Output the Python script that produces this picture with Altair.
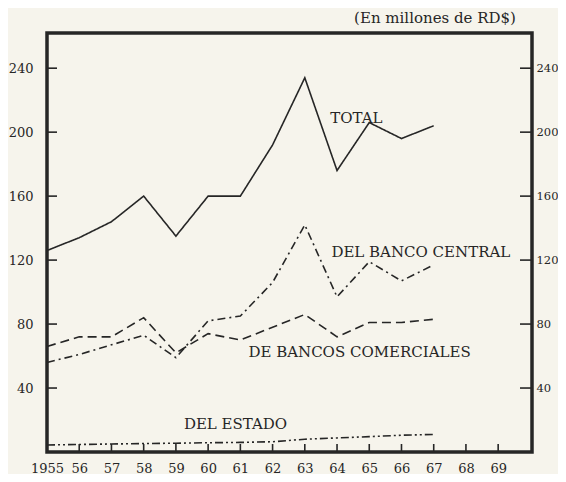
import altair as alt
import pandas as pd

# ---------------- data ----------------
years = [1955, 1956, 1957, 1958, 1959, 1960, 1961, 1962, 1963, 1964, 1965, 1966, 1967]
total = [126, 134, 144, 160, 135, 160, 160, 192, 234, 176, 206, 196, 204]
banco_central = [56, 61, 67, 73, 59, 82, 85, 106, 142, 97, 119, 107, 117]
bancos_comerciales = [66, 72, 72, 84, 62, 74, 70, 78, 86, 72, 81, 81, 83]
estado = [4.4, 4.7, 5.0, 5.3, 5.5, 5.8, 6.0, 6.4, 8.0, 8.8, 9.6, 10.5, 11.0]

series_names = ["TOTAL", "DEL BANCO CENTRAL", "DE BANCOS COMERCIALES", "DEL ESTADO"]
series_values = [total, banco_central, bancos_comerciales, estado]

x_ticks = list(range(1955, 1970))
x_tick_labels = ["1955", "56", "57", "58", "59", "60", "61", "62", "63",
                 "64", "65", "66", "67", "68", "69"]
y_ticks = [40, 80, 120, 160, 200, 240]

label_texts = ["TOTAL", "DEL BANCO CENTRAL", "DE BANCOS COMERCIALES", "DEL ESTADO"]
label_years = [1964.6, 1966.6, 1964.7, 1960.85]
label_values = [208.8, 125.0, 62.5, 17.5]

unit_note = "(En millones de RD$)"

# ---------------- build tables ----------------
rows = []
for name, vals in zip(series_names, series_values):
    for yr, v in zip(years, vals):
        rows.append({"year": yr, "value": v, "serie": name})
df = pd.DataFrame(rows)

tick_df = pd.DataFrame({"tick": y_ticks})
xt_df = pd.DataFrame({"year": x_ticks[1:]})
ann_df = pd.DataFrame({"text": label_texts, "year": label_years, "value": label_values})

W, H = 485, 419
ink = "#262626"
paper = "#f6f4ec"
font = "DejaVu Serif"

xscale = alt.Scale(domain=[1955, 1970.05], nice=False, zero=False)
yscale = alt.Scale(domain=[0, 262], nice=False)

label_expr = "[" + ",".join("'%s'" % t for t in x_tick_labels) + "][datum.value - %d]" % x_ticks[0]

axis_common = dict(ticks=False, domain=False, grid=False, title=None,
                   labelFont=font, labelFontSize=13, labelColor=ink)

x_axis = alt.Axis(values=x_ticks, labelExpr=label_expr, labelPadding=10,
                  labelFlush=False, labelOverlap=False, **axis_common)
X = lambda: alt.X("year:Q", scale=xscale, axis=x_axis)

lines = alt.Chart(df).mark_line(strokeWidth=1.6, color=ink).encode(
    x=X(),
    y=alt.Y("value:Q", scale=yscale,
            axis=alt.Axis(values=y_ticks, labelPadding=14, **axis_common)),
    strokeDash=alt.StrokeDash(
        "serie:N",
        scale=alt.Scale(domain=series_names,
                        range=[[1, 0], [8, 4, 2, 4], [9, 5], [8, 3, 2, 3, 2, 3]]),
        legend=None),
    detail="serie:N",
)

left_ticks = alt.Chart(tick_df).mark_rule(color=ink, strokeWidth=1.6).encode(
    y=alt.Y("tick:Q", scale=yscale, axis=None),
    x=alt.value(0), x2=alt.value(10),
)

right_axis = dict(axis_common)
right_axis["labelFontSize"] = 11.5
right_ticks = alt.Chart(tick_df).mark_rule(color=ink, strokeWidth=1.6).encode(
    y=alt.Y("tick:Q", scale=yscale,
            axis=alt.Axis(orient="right", values=y_ticks, labelPadding=4,
                          labelAlign="left", **right_axis)),
    x=alt.value(W - 12), x2=alt.value(W),
)

bottom_ticks = alt.Chart(xt_df).mark_rule(color=ink, strokeWidth=1.6).encode(
    x=X(),
    y=alt.value(H), y2=alt.value(H - 8),
)

ann = alt.Chart(ann_df).mark_text(font=font, fontSize=15, color=ink).encode(
    x=X(),
    y=alt.Y("value:Q", scale=yscale, axis=None),
    text="text:N",
)

chart = alt.layer(lines, left_ticks, right_ticks, bottom_ticks, ann).resolve_scale(
    y="independent"
).properties(
    width=W,
    height=H,
    autosize=alt.AutoSizeParams(type="none"),
    padding={"left": 39, "top": 25, "right": 26, "bottom": 22},
    background=paper,
    title=alt.Title(unit_note, anchor="end", dx=-42, offset=0, font=font,
                    fontSize=15, fontWeight="normal", color=ink, baseline="middle"),
).configure_view(stroke=ink, strokeWidth=3.5)

chart.save("out.html", embed_options={"renderer": "svg", "actions": False})
